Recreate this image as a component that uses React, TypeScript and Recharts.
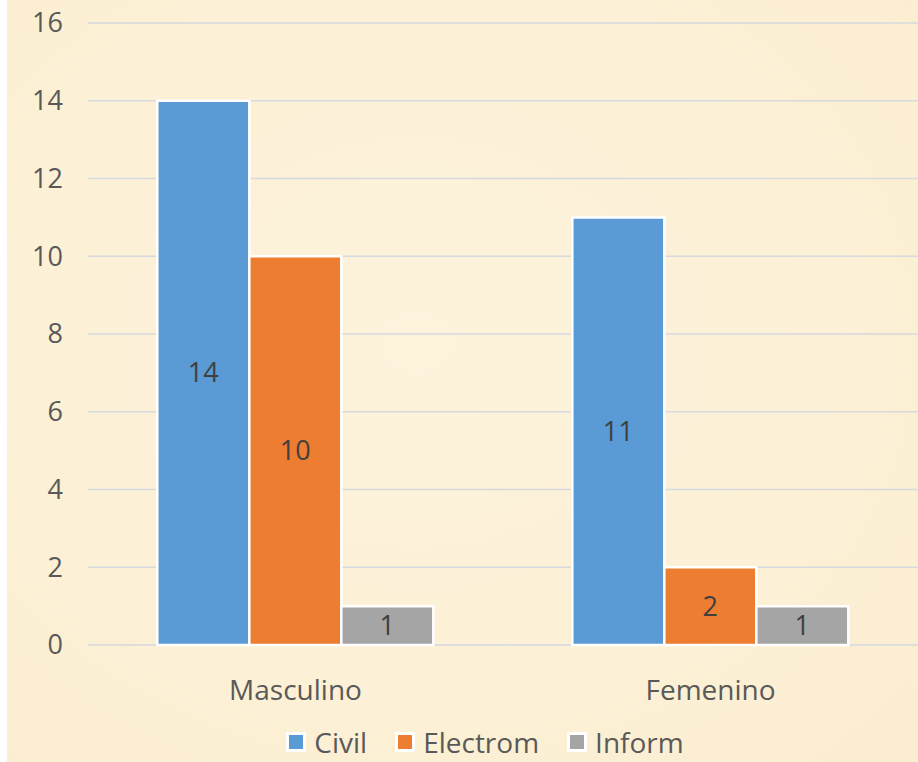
import React from "react";
import {
  BarChart,
  Bar,
  XAxis,
  YAxis,
  CartesianGrid,
  Legend,
  LabelList,
} from "recharts";

const categories = ["Masculino", "Femenino"];
const civil = [14, 11];
const electrom = [10, 2];
const inform = [1, 1];
const yTicks = [0, 2, 4, 6, 8, 10, 12, 14, 16];
const boundaryTicks = [0, 1, 2];

const series = [
  { key: "civil", label: "Civil", color: "#5B9BD5" },
  { key: "electrom", label: "Electrom", color: "#ED7D31" },
  { key: "inform", label: "Inform", color: "#A5A5A5" },
];

const data = categories.map((c, i) => ({
  name: c,
  civil: civil[i],
  electrom: electrom[i],
  inform: inform[i],
}));

const FONT = "'Open Sans', sans-serif";
const TEXT = "#595959";
const GRID = "#D6D9DE";

const YTick = ({ x, y, payload }: any) => (
  <text
    x={x - 17}
    y={y}
    dy="0.35em"
    textAnchor="end"
    fontSize={27}
    fontFamily={FONT}
    fill={TEXT}
  >
    {payload.value}
  </text>
);

const XTick = ({ x, y, payload }: any) => (
  <text
    x={x}
    y={y + 47}
    textAnchor="middle"
    fontSize={28}
    fontFamily={FONT}
    fill={TEXT}
  >
    {payload.value}
  </text>
);

const LegendContent = () => (
  <div
    style={{
      display: "flex",
      justifyContent: "center",
      alignItems: "center",
      gap: 28,
      paddingTop: 13,
      paddingLeft: 52,
      fontFamily: FONT,
      fontSize: 28,
      lineHeight: 1,
      color: TEXT,
    }}
  >
    {series.map((s) => (
      <div key={s.key} style={{ display: "flex", alignItems: "center", gap: 8 }}>
        <div
          style={{
            width: 14,
            height: 14,
            background: s.color,
            border: "3px solid #fff",
          }}
        />
        <span>{s.label}</span>
      </div>
    ))}
  </div>
);

export default function App() {
  return (
    <div
      style={{
        position: "absolute",
        left: 0,
        top: 0,
        width: 918,
        height: 762,
        background: "#fff",
        overflow: "hidden",
      }}
    >
      <div
        style={{
          position: "absolute",
          left: 7,
          top: 0,
          right: 0,
          bottom: 0,
          background:
            "radial-gradient(ellipse at 45% 45%, #FDF3DC 0%, #FCF0D6 60%, #FBEDCF 100%)",
        }}
      />
      <div style={{ position: "absolute", left: 0, top: 0 }}>
        <BarChart
          width={918}
          height={762}
          data={data}
          margin={{ top: 23, right: 0, left: 0, bottom: 0 }}
          barCategoryGap="16.7%"
          barGap={0}
        >
          <CartesianGrid vertical={false} stroke={GRID} strokeWidth={1.5} />
          <XAxis
            xAxisId="edge"
            type="number"
            domain={[0, 2]}
            ticks={boundaryTicks}
            height={0}
            axisLine={{ stroke: GRID, strokeWidth: 1.5 }}
            tickLine={{ stroke: "#CCD0D6", strokeWidth: 1.5 }}
            tickSize={8}
            tick={() => <g />}
            allowDataOverflow
          />
          <XAxis
            xAxisId="cat"
            dataKey="name"
            height={70}
            axisLine={false}
            tickLine={false}
            tick={<XTick />}
            interval={0}
          />
          <YAxis
            width={88}
            domain={[0, 16]}
            ticks={yTicks}
            axisLine={false}
            tickLine={false}
            tick={<YTick />}
            interval={0}
          />
          <Legend verticalAlign="bottom" height={47} content={<LegendContent />} />
          {series.map((s) => (
            <Bar
              key={s.key}
              xAxisId="cat"
              dataKey={s.key}
              name={s.label}
              fill={s.color}
              stroke="#fff"
              strokeWidth={2.5}
              isAnimationActive={false}
            >
              <LabelList
                dataKey={s.key}
                position="center"
                fontSize={27}
                fontFamily={FONT}
                fill="#404040"
              />
            </Bar>
          ))}
        </BarChart>
      </div>
    </div>
  );
}
